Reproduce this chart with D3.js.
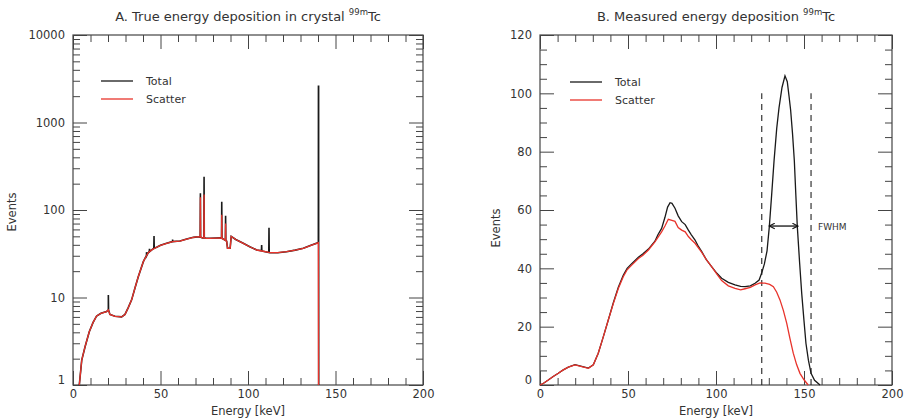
<!DOCTYPE html>
<html>
<head>
<meta charset="utf-8">
<script src="https://cdn.jsdelivr.net/npm/d3@7"></script>
<style>
body { margin: 0; background: #fff; }
svg text { font-family: "DejaVu Sans", sans-serif; fill: #333; }
</style>
</head>
<body>
<div id="chart"></div>
<script>
// A: true energy deposition (log scale), continuum shared by both series
var trueContinuum = [
  [3.6, 1], [5, 1.93], [6.9, 2.74], [9.3, 4.06], [11.5, 5.2], [13.5, 6.15], [16, 6.6], [19.2, 6.9],
  [20.2, 7.2], [21.1, 6.4], [24, 6.1], [27.8, 6.0], [29.7, 6.4], [31.5, 7.6], [33.5, 9.4], [35.5, 13],
  [37.3, 17.3], [40.2, 25.7], [42, 30], [43, 32.5], [45, 35], [47.8, 37.5], [50, 39.5], [53.5, 41.6],
  [56.9, 43.5], [61.1, 44.2], [65, 46.5], [68.8, 48.7], [71.6, 49.5], [72.4, 49], [74, 48], [76, 47.5],
  [78.3, 47.5], [82, 47.8], [84, 48], [87.8, 44], [88.3, 36.5], [89.8, 36.5], [90.4, 50], [93, 46],
  [97.3, 41.6], [101, 38], [105, 34.9], [108, 34], [112.6, 32.5], [117, 32.5], [122, 33.4], [127, 34.8],
  [131.6, 36.5], [136, 39.5], [140.2, 42.4]
];
// spikes: [energy, base, peak]
var trueTotalSpikes = [
  [20.2, 7.2, 10.7], [42, 30, 33], [43.7, 33.5, 36], [46.3, 36.5, 50.5], [56.9, 43.5, 46],
  [72.8, 49, 155], [74.9, 48, 240], [85, 47.5, 124], [87.2, 45, 86], [107.8, 34.1, 39.8], [112, 32.6, 62.8]
];
var trueScatterSpikes = [
  [72.8, 49, 140], [74.9, 48, 150], [85, 47.5, 88], [87.2, 45, 70]
];
var trueTotalTail = [[140.25, 2600], [140.35, 2600], [140.4, 1]];
var trueScatterTail = [[140.3, 1]];

// B: measured energy deposition (linear scale)
var measuredTotal = [
  [0, 0], [2, 0.6], [4.7, 1.7], [7.5, 2.9], [10.4, 4.0], [13, 5.1], [16.1, 6.1], [19.9, 7.0], [23.7, 6.4],
  [27.5, 5.8], [30.3, 6.9], [33.1, 10.9], [36, 16.6], [38.8, 22.3], [41.7, 28.3], [44.5, 33.5], [47.3, 37.6],
  [49.5, 40], [52.1, 41.6], [55.9, 43.8], [58.5, 45], [61.6, 46.6], [65.3, 49.3], [67, 51.5], [69.1, 53.7],
  [71, 57.5], [72.5, 61], [73.9, 62.5], [75, 62.3], [76.7, 60.6], [78.5, 58], [80.5, 56], [82.5, 55],
  [84.3, 53.1], [86, 51.5], [88.1, 49.7], [90, 47.5], [91.9, 45.7], [94.5, 43], [97.5, 40.6], [100.5, 38.3],
  [103.2, 36.6], [107, 35.2], [110.8, 34.3], [114, 33.8], [116.5, 33.7], [119.5, 34.0], [122.2, 34.9],
  [124.5, 36], [126, 38.5], [127.5, 41.5], [129, 46], [130.3, 54.3], [131.6, 65], [133, 77], [134.5, 88],
  [135.8, 95], [137.5, 102], [139.2, 106], [140.5, 104], [141.5, 99], [142.4, 94.3], [143.5, 86],
  [144.5, 77], [145.3, 66], [146.2, 54.3], [147.5, 42], [148.7, 31.4], [150, 22], [151.1, 14.3],
  [152.5, 8.5], [154, 4], [156, 1.6], [159.1, 0]
];
var measuredScatter = [
  [0, 0], [2, 0.6], [4.7, 1.7], [7.5, 2.9], [10.4, 4.0], [13, 5.1], [16.1, 6.1], [19.9, 6.9], [23.7, 6.3],
  [27.5, 5.7], [30.3, 6.9], [33.1, 10.9], [36, 16.6], [38.8, 22.3], [41.7, 28], [44.5, 33.1], [47.3, 37.1],
  [49.5, 39.5], [52.1, 41.1], [55.9, 43.4], [58.5, 44.5], [61.6, 46.3], [65.3, 49.1], [69.1, 52.5],
  [71, 54.5], [72.9, 56.8], [74.5, 56.5], [76.7, 56.1], [78.5, 54], [80.5, 53.1], [82.5, 52.5],
  [84.3, 50.9], [86, 49.8], [88.1, 48.6], [91.9, 45.5], [94.5, 43], [97.5, 40.6], [100.5, 38],
  [103.2, 35.8], [107, 34], [110.8, 33.1], [114, 32.6], [116.5, 33.0], [119.5, 33.5], [122.2, 34.3],
  [125, 35], [127.8, 34.9], [130.5, 34.5], [132.6, 33.7], [134.5, 31.8], [136.4, 29.1], [138.3, 25.5],
  [140.2, 21.1], [142, 16], [143.9, 10.9], [145.8, 7], [147.7, 4], [150, 1.8], [152.4, 0]
];
var fwhmLines = [126, 154];
var fwhmArrow = [130.2, 146.6, 54.5];

var xTicksMajor = [0, 50, 100, 150, 200];
var logTicksMajor = [1, 10, 100, 1000, 10000];
var linTicksMajor = [0, 20, 40, 60, 80, 100, 120];

var W = 906, H = 420;
var svg = d3.select("#chart").append("svg").attr("width", W).attr("height", H);

var defs = svg.append("defs");
defs.append("marker")
  .attr("id", "arr")
  .attr("viewBox", "0 0 10 10")
  .attr("refX", 9).attr("refY", 5)
  .attr("markerWidth", 7).attr("markerHeight", 7)
  .attr("markerUnits", "userSpaceOnUse")
  .attr("orient", "auto-start-reverse")
  .append("path")
  .attr("d", "M1,1 L9,5 L1,9")
  .attr("fill", "none")
  .attr("stroke", "#111")
  .attr("stroke-width", 1.6);

function withSpikes(cont, spikes) {
  var pts = cont.slice();
  spikes.forEach(function(s) {
    pts.push([s[0] - 0.12, s[1]], [s[0], s[2]], [s[0] + 0.12, s[1]]);
  });
  return pts.sort(function(a, b) { return a[0] - b[0]; });
}

function frame(x, y, minorX, minorY, majorY, yFormat) {
  var g = svg.append("g");
  var x0 = x.range()[0], x1 = x.range()[1], y0 = y.range()[0], y1 = y.range()[1];

  var mk = function(axis, tr, size, ticks, fmt) {
    var a = axis.tickValues(ticks).tickSizeInner(size).tickSizeOuter(0).tickPadding(5);
    a.tickFormat(fmt || "");
    var ag = g.append("g").attr("transform", tr).call(a);
    ag.select(".domain").remove();
    ag.selectAll("line").attr("stroke", "#444");
    return ag;
  };
  // bottom / top
  var bx = mk(d3.axisBottom(x), "translate(0," + y0 + ")", -14, xTicksMajor, d3.format("d"));
  mk(d3.axisBottom(x), "translate(0," + y0 + ")", -7, minorX);
  mk(d3.axisTop(x), "translate(0," + y1 + ")", -14, xTicksMajor);
  mk(d3.axisTop(x), "translate(0," + y1 + ")", -7, minorX);
  // left / right
  var ly = mk(d3.axisLeft(y), "translate(" + x0 + ",0)", -14, majorY, yFormat);
  mk(d3.axisLeft(y), "translate(" + x0 + ",0)", -7, minorY);
  mk(d3.axisRight(y), "translate(" + x1 + ",0)", -14, majorY);
  mk(d3.axisRight(y), "translate(" + x1 + ",0)", -7, minorY);

  bx.selectAll("text").attr("font-size", "11.5px").attr("fill", "#333").attr("font-family", "DejaVu Sans");
  ly.selectAll("text").attr("font-size", "11.5px").attr("fill", "#333").attr("font-family", "DejaVu Sans")
    .attr("x", -8);
  // lowest y label sits a bit higher, clear of the x label
  ly.selectAll(".tick").filter(function(d, i) { return i === 0; })
    .select("text").attr("dy", "-0.15em");

  g.append("rect")
    .attr("x", x0).attr("y", y1)
    .attr("width", x1 - x0).attr("height", y0 - y1)
    .attr("fill", "none").attr("stroke", "#444").attr("stroke-width", 1.2);

  svg.append("text")
    .attr("x", (x0 + x1) / 2).attr("y", 415)
    .attr("text-anchor", "middle").attr("font-size", "11.5px")
    .text("Energy [keV]");
  return g;
}

function title(cx, txt) {
  var t = svg.append("text")
    .attr("x", cx).attr("y", 21)
    .attr("text-anchor", "middle").attr("font-size", "13px").attr("fill", "#222");
  t.append("tspan").text(txt + " ");
  t.append("tspan").attr("font-size", "8.5px").attr("dy", "-6").text("99m");
  t.append("tspan").attr("dy", "6").text("Tc");
}

function legend(x, y) {
  var items = [["Total", "#1a1a1a"], ["Scatter", "#e8332b"]];
  items.forEach(function(it, i) {
    svg.append("line")
      .attr("x1", x).attr("x2", x + 32)
      .attr("y1", y + i * 18).attr("y2", y + i * 18)
      .attr("stroke", it[1]).attr("stroke-width", 1.3);
    svg.append("text")
      .attr("x", x + 45).attr("y", y + i * 18 + 4)
      .attr("font-size", "11px").text(it[0]);
  });
}

function yLabel(x, y) {
  svg.append("text")
    .attr("transform", "translate(" + x + "," + y + ") rotate(-90)")
    .attr("text-anchor", "middle").attr("font-size", "11.5px")
    .text("Events");
}

var range10 = d3.range(10, 201, 10).filter(function(d) { return d % 50 !== 0; });

// ---- Panel A ----
var xA = d3.scaleLinear().domain([0, 200]).range([73, 423]);
var yA = d3.scaleLog().domain([1, 10000]).range([385, 35]);
var logMinor = [];
[1, 10, 100, 1000].forEach(function(dec) {
  for (var k = 2; k <= 9; k++) logMinor.push(dec * k);
});
frame(xA, yA, range10, logMinor, logTicksMajor, d3.format("d"));
title(248, "A. True energy deposition in crystal");
yLabel(16, 212);
legend(101, 81);

var lineA = d3.line().x(function(d) { return xA(d[0]); }).y(function(d) { return yA(d[1]); });
var totalA = withSpikes(trueContinuum, trueTotalSpikes).concat(trueTotalTail);
var scatterA = withSpikes(trueContinuum, trueScatterSpikes).concat(trueScatterTail);
svg.append("path").datum(totalA).attr("d", lineA)
  .attr("fill", "none").attr("stroke", "#1a1a1a").attr("stroke-width", 1.6);
svg.append("path").datum(scatterA).attr("d", lineA)
  .attr("fill", "none").attr("stroke", "#e8332b").attr("stroke-width", 1.3);

// ---- Panel B ----
var xB = d3.scaleLinear().domain([0, 200]).range([540, 892]);
var yB = d3.scaleLinear().domain([0, 120]).range([385, 35]);
var linMinor = d3.range(5, 120, 5).filter(function(d) { return d % 20 !== 0; });
frame(xB, yB, range10, linMinor, linTicksMajor, d3.format("d"));
title(716, "B. Measured energy deposition");
yLabel(500, 228);
legend(570, 82);

fwhmLines.forEach(function(e) {
  svg.append("line")
    .attr("x1", xB(e)).attr("x2", xB(e))
    .attr("y1", yB(0)).attr("y2", yB(100))
    .attr("stroke", "#222").attr("stroke-width", 1.1)
    .attr("stroke-dasharray", "6,5");
});

var lineB = d3.line().x(function(d) { return xB(d[0]); }).y(function(d) { return yB(d[1]); });
svg.append("path").datum(measuredTotal).attr("d", lineB)
  .attr("fill", "none").attr("stroke", "#1a1a1a").attr("stroke-width", 1.3);
svg.append("path").datum(measuredScatter).attr("d", lineB)
  .attr("fill", "none").attr("stroke", "#e8332b").attr("stroke-width", 1.3);

svg.append("line")
  .attr("x1", xB(fwhmArrow[0])).attr("x2", xB(fwhmArrow[1]))
  .attr("y1", yB(fwhmArrow[2])).attr("y2", yB(fwhmArrow[2]))
  .attr("stroke", "#111").attr("stroke-width", 1.3)
  .attr("marker-start", "url(#arr)").attr("marker-end", "url(#arr)");
svg.append("text")
  .attr("x", 818).attr("y", yB(fwhmArrow[2]) + 4)
  .attr("font-size", "9px").text("FWHM");
</script>
</body>
</html>
